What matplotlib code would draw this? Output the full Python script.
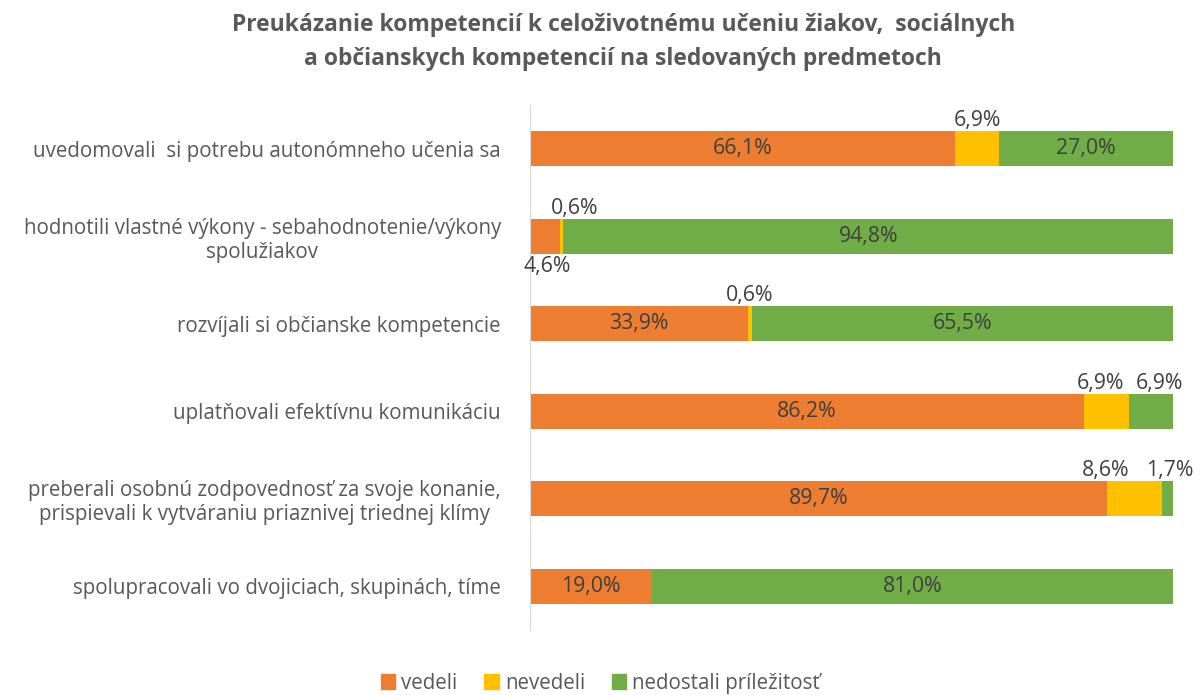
import matplotlib.pyplot as plt
from matplotlib.patches import Patch

plt.rcParams['font.family'] = ['Open Sans', 'DejaVu Sans']

categories = [
    "uvedomovali  si potrebu autonómneho učenia sa",
    "hodnotili vlastné výkony - sebahodnotenie/výkony\nspolužiakov",
    "rozvíjali si občianske kompetencie",
    "uplatňovali efektívnu komunikáciu",
    "preberali osobnú zodpovednosť za svoje konanie,\nprispievali k vytváraniu priaznivej triednej klímy",
    "spolupracovali vo dvojiciach, skupinách, tíme",
]
vedeli = [66.1, 4.6, 33.9, 86.2, 89.7, 19.0]
nevedeli = [6.9, 0.6, 0.6, 6.9, 8.6, 0.0]
nedostali = [27.0, 94.8, 65.5, 6.9, 1.7, 81.0]
series_names = ["vedeli", "nevedeli", "nedostali príležitosť"]

colors = ["#ED7D31", "#FFC000", "#70AD47"]
TEXT = "#595959"
LABEL = "#404040"
FS = 14.8
FS_LAB = 15.3

# horizontal nudges (in % units) for the small labels placed outside the bars
nudge = {(1, 0): 0.3, (1, 1): 2.0, (3, 1): -1.0, (3, 2): 1.3, (4, 1): -4.5, (4, 2): 0.3}


def fmt(v):
    return f"{v:.1f}%".replace(".", ",")


fig = plt.figure(figsize=(12.01, 6.95), dpi=100)
ax = fig.add_axes([0.4413, 0.0935, 0.5354, 0.7555])

ypos = list(range(len(categories)))
left = [0.0] * len(categories)
for k, (name, vals, col) in enumerate(zip(series_names, [vedeli, nevedeli, nedostali], colors)):
    ax.barh(ypos, vals, left=left, height=0.4, color=col, label=name)
    for i, v in enumerate(vals):
        if v <= 0:
            continue
        cx = left[i] + v / 2 + nudge.get((i, k), 0)
        if v >= 10:
            ax.text(cx, i, fmt(v), ha="center", va="center", fontsize=FS_LAB, color=LABEL)
        elif k == 0:
            # small first segment: label below the bar
            ax.text(cx, i + 0.23, fmt(v), ha="center", va="top", fontsize=FS_LAB, color=LABEL)
        else:
            ax.text(cx, i - 0.2, fmt(v), ha="center", va="bottom", fontsize=FS_LAB, color=LABEL)
    left = [l + v for l, v in zip(left, vals)]

ax.set_xlim(0, 100)
ax.set_ylim(5.5, -0.5)
ax.set_yticks(ypos)
ax.set_yticklabels(categories, fontsize=FS, color=TEXT, multialignment="center")
ax.tick_params(axis="y", length=0, pad=21)
ax.set_xticks([])
for s in ["top", "right", "bottom"]:
    ax.spines[s].set_visible(False)
ax.spines["left"].set_color("#D9D9D9")

fig.text(0.519, 0.982, "Preukázanie kompetencií k celoživotnému učeniu žiakov,  sociálnych\n"
         "a občianskych kompetencií na sledovaných predmetoch",
         ha="center", va="top", fontsize=16.5, fontweight="bold", color=TEXT, linespacing=1.6)

handles = [Patch(color=c) for c in colors]
fig.legend(handles, series_names, loc="center", bbox_to_anchor=(0.5, 0.017),
           ncol=3, frameon=False, fontsize=FS, labelcolor=TEXT,
           handlelength=0.7, handleheight=0.7, handletextpad=0.3, columnspacing=1.3)

fig.savefig("out.png", dpi=100)
